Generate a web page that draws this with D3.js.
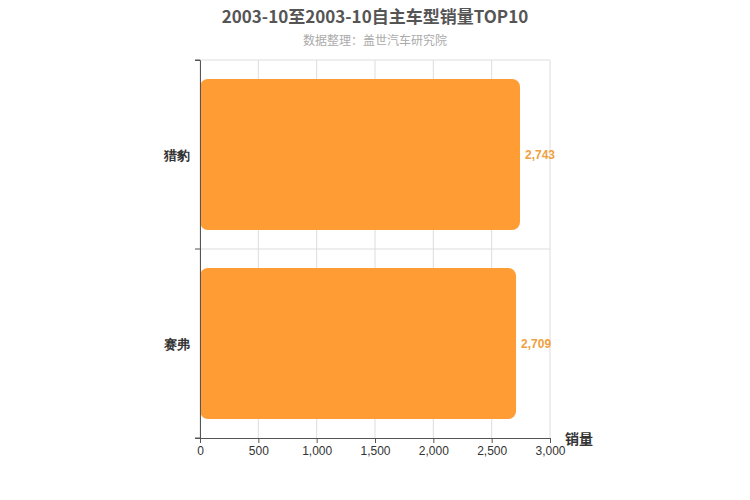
<!DOCTYPE html>
<html><head><meta charset="utf-8">
<script src="https://cdn.jsdelivr.net/npm/d3@7/dist/d3.min.js"></script>
<style>body{margin:0;background:#fff;font-family:"Noto Sans CJK SC",sans-serif}</style>
</head><body><svg id="c" width="750" height="500"></svg>
<script>
const categories=["猎豹","赛弗"];
const values=[2743,2709];
const ticks=[0,500,1000,1500,2000,2500,3000];
const svg=d3.select("#c");
const m={l:200,r:550,t:60,b:438};
const x=d3.scaleLinear().domain([0,3000]).range([m.l,m.r]);
const y=d3.scaleBand().domain(categories).range([m.t,m.b]).paddingInner(0.2).paddingOuter(0.1);
const yb=d3.scaleBand().domain(categories).range([m.t,m.b]);
svg.append("text").attr("x",375).attr("y",23).attr("text-anchor","middle").attr("font-size",17).attr("font-weight","bold").attr("fill","#555").text("2003-10至2003-10自主车型销量TOP10");
svg.append("text").attr("x",375).attr("y",45).attr("text-anchor","middle").attr("font-size",12).attr("fill","#aaa").text("数据整理：盖世汽车研究院");
const g=svg.append("g");
ticks.forEach(t=>g.append("line").attr("x1",x(t)).attr("x2",x(t)).attr("y1",m.t).attr("y2",m.b).attr("stroke","#ddd"));
[m.t,yb("赛弗")].forEach(v=>g.append("line").attr("x1",m.l).attr("x2",m.r).attr("y1",v).attr("y2",v).attr("stroke","#ddd"));
categories.forEach((c,i)=>{
 g.append("rect").attr("x",x(0)).attr("y",y(c)).attr("width",x(values[i])-x(0)).attr("height",y.bandwidth()).attr("rx",8).attr("fill","#FF9C33");
 g.append("text").attr("x",x(values[i])+5).attr("y",y(c)+y.bandwidth()/2+4).attr("font-size",12).attr("font-weight","bold").attr("fill","#F0A040").attr("font-family","Arial,Liberation Sans").text(d3.format(",")(values[i]));
});
const xa=svg.append("g").attr("transform",`translate(0,${m.b})`).call(d3.axisBottom(x).tickValues(ticks).tickSize(5).tickFormat(d3.format(",")));
xa.selectAll("text").attr("font-size",12).attr("fill","#333").attr("font-family","Arial,Liberation Sans");
xa.selectAll("line,path").attr("stroke","#555");
const ya=svg.append("g").attr("transform",`translate(${m.l},0)`).call(d3.axisLeft(yb).tickSize(5));
ya.selectAll(".tick").remove();
ya.selectAll("path").attr("stroke","#555");
[m.t,yb("赛弗"),m.b].forEach(v=>ya.append("line").attr("x1",-5).attr("x2",0).attr("y1",v).attr("y2",v).attr("stroke","#555"));
categories.forEach(c=>ya.append("text").attr("x",-10).attr("y",yb(c)+yb.bandwidth()/2+5).attr("text-anchor","end").attr("font-size",13).attr("font-weight","bold").attr("fill","#333").text(c));
svg.append("text").attr("x",565).attr("y",444).attr("font-size",14).attr("font-weight","bold").attr("fill","#333").text("销量");
</script></body></html>
